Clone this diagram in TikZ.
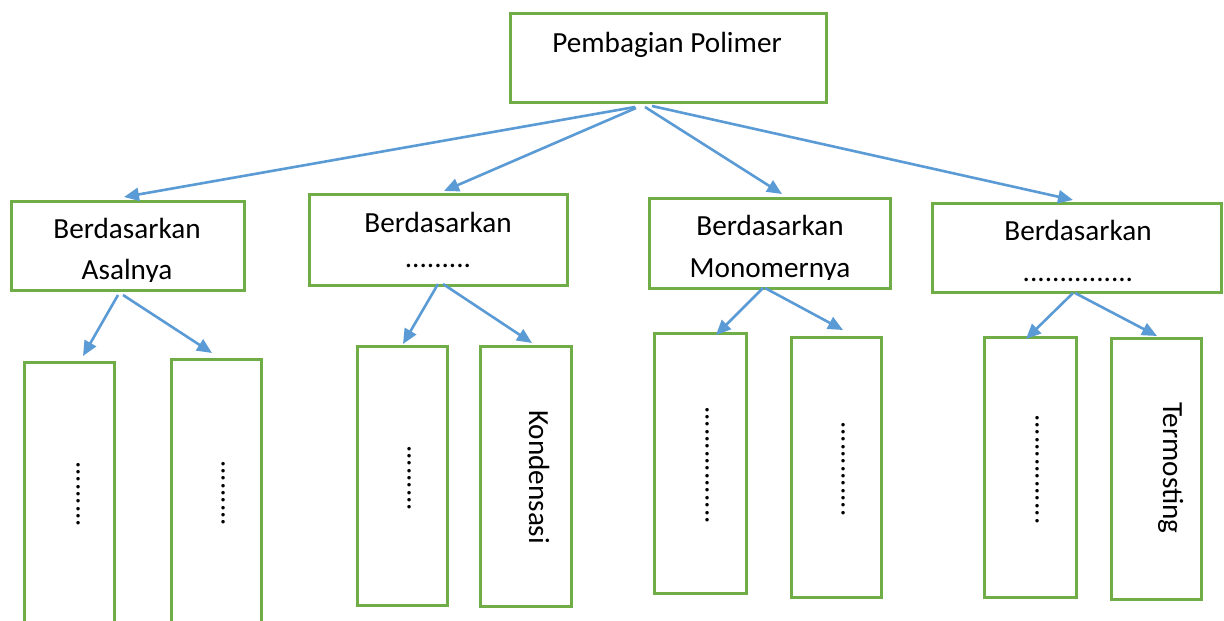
\documentclass[tikz,border=0pt]{standalone}
\usepackage{fontspec}
\setmainfont{Carlito}
\usetikzlibrary{arrows.meta,calc}
\definecolor{boxgreen}{HTML}{70AD47}
\definecolor{arrblue}{HTML}{5B9BD5}
\tikzset{
  box/.style={draw=boxgreen, line width=3pt, rectangle, inner sep=0pt, outer sep=0pt, fill=none},
  conn/.style={draw=arrblue, line width=2.6pt, -{Triangle[length=15pt,width=13pt]}},
  txt/.style={inner sep=0pt, outer sep=0pt, anchor=base, font=\fontsize{29.2}{35}\selectfont},
  vtxt/.style={inner sep=0pt, outer sep=0pt, anchor=base west, rotate=-90, font=\fontsize{29.2}{35}\selectfont}
}
\begin{document}
\begin{tikzpicture}[x=1pt,y=-1pt]
\clip (0,0) rectangle (1224,621);
\fill[white] (0,0) rectangle (1224,621);
% boxes
\node[box, minimum width=316pt, minimum height=89pt] (root) at (668,57.5) {};
\node[box, minimum width=233pt, minimum height=89pt] (B1) at (127.5,245.5) {};
\node[box, minimum width=258pt, minimum height=91pt] (B2) at (438,239.5) {};
\node[box, minimum width=241pt, minimum height=90pt] (B3) at (769.5,243) {};
\node[box, minimum width=289pt, minimum height=89pt] (B4) at (1077,247.5) {};
\node[box, minimum width=90pt, minimum height=338pt] (C1) at (69,531) {};
\node[box, minimum width=90pt, minimum height=341pt] (C2) at (216,529.5) {};
\node[box, minimum width=90pt, minimum height=259pt] (C3) at (402,475.5) {};
\node[box, minimum width=91pt, minimum height=260pt] (C4) at (525.5,476) {};
\node[box, minimum width=92pt, minimum height=260pt] (C5) at (700,463) {};
\node[box, minimum width=90pt, minimum height=260pt] (C6) at (836,467) {};
\node[box, minimum width=92pt, minimum height=260pt] (C7) at (1030,467) {};
\node[box, minimum width=90pt, minimum height=261pt] (C8) at (1156,468.5) {};
% texts
\node[txt] (troot) at (667,52) {Pembagian Polimer};
\node[txt] (tb1a) at (127,238) {Berdasarkan};
\begin{scope}
\clip (11,201) rectangle (244,281);
\node[txt] (tb1b) at (127,279) {Asalnya};
\end{scope}
\node[txt] (tb2a) at (438,232) {Berdasarkan};
\node[txt] (tb2b) at (438,267) {.........};
\node[txt] (tb3a) at (770,235) {Berdasarkan};
\begin{scope}
\clip (649,198) rectangle (890,279);
\node[txt] (tb3b) at (770,277) {Monomernya};
\end{scope}
\node[txt] (tb4a) at (1078,240) {Berdasarkan};
\node[txt] (tb4b) at (1078,281) {...............};
\node[vtxt] (tc1) at (76.5,461) {.........};
\node[vtxt] (tc2) at (221.5,460) {.........};
\node[vtxt] (tc3) at (407.5,445) {.........};
\node[vtxt] (tc4) at (529,410) {Kondensasi};
\node[vtxt] (tc5) at (705.5,406) {................};
\node[vtxt] (tc6) at (841.5,421) {.............};
\node[vtxt] (tc7) at (1035.5,414) {...............};
\node[vtxt] (tc8) at (1163,402) {Termosting};
% connectors from root
\draw[conn] ($(root.south)+(-33,5)$) -- ($(B1.north)+(-3.5,-4)$);
\draw[conn] ($(root.south)+(-32,6)$) -- ($(B2.north)+(6,-3)$);
\draw[conn] ($(root.south)+(-23,5)$) -- ($(B3.north)+(12.5,-4)$);
\draw[conn] ($(root.south)+(-16,4)$) -- ($(B4.north)+(-4,-3)$);
% second level connectors
\draw[conn] ($(B1.south)+(-9.5,5)$) -- ($(C1.north)+(14,-6)$);
\draw[conn] ($(B1.south)+(-4.5,5)$) -- ($(C2.north)+(-4,-6)$);
\draw[conn] ($(B2.south)+(0,-1)$) -- ($(C3.north)+(1,-2)$);
\draw[conn] ($(B2.south)+(5,-1)$) -- ($(C4.north)+(6.5,-3)$);
\draw[conn] ($(B3.south)+(-6.5,0)$) -- ($(C5.north)+(16,2)$);
\draw[conn] ($(B3.south)+(-4.5,0)$) -- ($(C6.north)+(7,-7)$);
\draw[conn] ($(B4.south)+(-4,1)$) -- ($(C7.north)+(-4,2)$);
\draw[conn] ($(B4.south)+(-2,1)$) -- ($(C8.north)+(1,-2)$);
\end{tikzpicture}
\end{document}
